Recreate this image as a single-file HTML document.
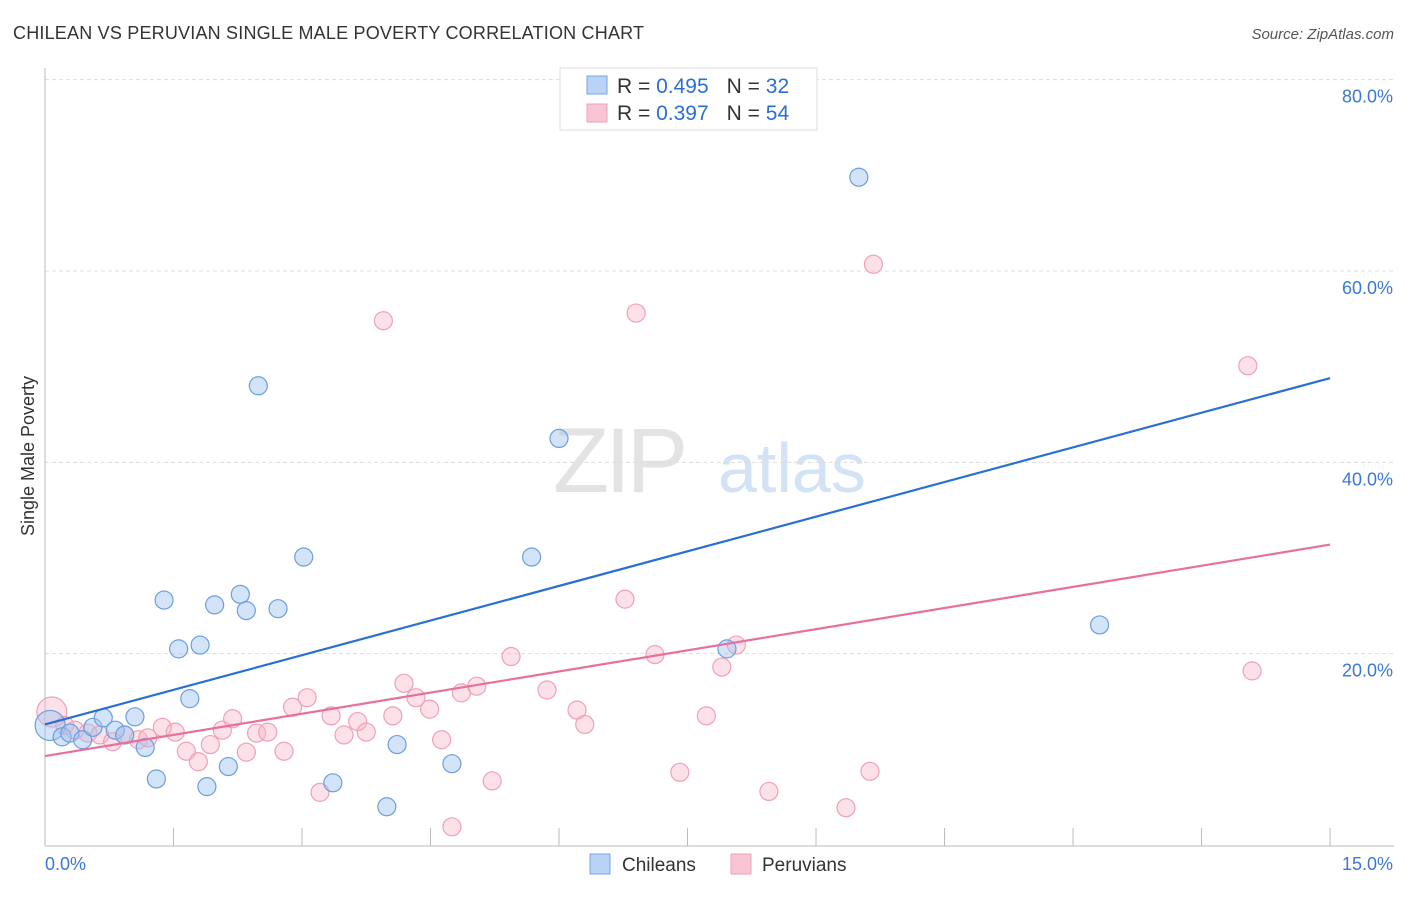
<!DOCTYPE html>
<html><head><meta charset="utf-8"><style>
body{margin:0;background:#fff;font-family:"Liberation Sans",sans-serif;}
svg text{font-family:"Liberation Sans",sans-serif;}
</style></head><body>
<svg width="1406" height="892" xmlns="http://www.w3.org/2000/svg">
<text x="13" y="39" font-size="18" fill="#333" letter-spacing="0.2">CHILEAN VS PERUVIAN SINGLE MALE POVERTY CORRELATION CHART</text>
<text x="1394" y="39" font-size="15" fill="#555" font-style="italic" text-anchor="end">Source: ZipAtlas.com</text>
<g>
<text x="553" y="492" font-size="92" fill="#e3e3e3" font-family="Liberation Serif" letter-spacing="-4">ZIP</text>
<text x="718" y="492" font-size="70" fill="#d3e3f6">atlas</text>
</g>
<g id="grid"></g>
<g id="axes"></g>
<g id="marks"></g>
<text x="34" y="456" font-size="18" fill="#333" transform="rotate(-90 34 456)" text-anchor="middle">Single Male Poverty</text>
<g>
<rect x="560" y="68" width="257" height="62" fill="#fff" stroke="#ddd"/>
<rect x="587" y="76" width="20" height="18" fill="#b8d3f5" stroke="#7aa7e0"/>
<rect x="587" y="104" width="20" height="18" fill="#f9c5d5" stroke="#f0a0b8"/>
<text x="617" y="93" font-size="21" fill="#333">R = <tspan fill="#2a6fd6">0.495</tspan><tspan dx="18">N = </tspan><tspan fill="#2a6fd6">32</tspan></text>
<text x="617" y="120" font-size="21" fill="#333">R = <tspan fill="#2a6fd6">0.397</tspan><tspan dx="18">N = </tspan><tspan fill="#2a6fd6">54</tspan></text>
</g>
<g>
<rect x="590" y="854" width="20" height="20" fill="#b8d3f5" stroke="#7aa7e0"/>
<text x="622" y="871" font-size="19" fill="#333">Chileans</text>
<rect x="731" y="854" width="20" height="20" fill="#f9c5d5" stroke="#f0a0b8"/>
<text x="762" y="871" font-size="19" fill="#333">Peruvians</text>
</g>
</svg>
<script>
const blueX=[0.06,0.20,0.29,0.44,0.56,0.68,0.82,0.93,1.05,1.17,1.30,1.39,1.56,1.69,1.81,1.89,1.98,2.14,2.28,2.35,2.49,2.72,3.02,3.36,3.99,4.11,4.75,5.68,6.00,7.96,9.50,12.31];
const blueY=[12.5,11.3,11.7,11.0,12.3,13.3,12.0,11.5,13.4,10.2,6.9,25.6,20.5,15.3,20.9,6.1,25.1,8.2,26.2,24.5,48.0,24.7,30.1,6.5,4.0,10.5,8.5,30.1,42.5,20.5,69.8,23.0];
const pinkX=[0.08,0.23,0.35,0.50,0.64,0.79,0.93,1.09,1.20,1.37,1.52,1.65,1.79,1.93,2.07,2.19,2.35,2.47,2.60,2.79,2.89,3.06,3.21,3.34,3.49,3.65,3.75,3.95,4.06,4.19,4.33,4.49,4.63,4.75,4.86,5.04,5.22,5.44,5.86,6.21,6.30,6.77,6.90,7.12,7.41,7.72,7.90,8.07,8.45,9.35,9.63,9.67,14.04,14.09];
const pinkY=[13.9,12.5,12.0,11.7,11.5,10.8,11.5,11.0,11.2,12.3,11.8,9.8,8.7,10.5,12.0,13.2,9.7,11.7,11.8,9.8,14.4,15.4,5.5,13.5,11.5,12.9,11.8,54.8,13.5,16.9,15.4,14.2,11.0,1.9,15.9,16.6,6.7,19.7,16.2,14.1,12.6,25.7,55.6,19.9,7.6,13.5,18.6,20.9,5.6,3.9,7.7,60.7,50.1,18.2];
const blueTrend=[12.6,48.8];
const pinkTrend=[9.3,31.4];
const yTicks=[20,40,60,80];
const yTickLabels=["20.0%","40.0%","60.0%","80.0%"];
const xTicks=[1.5,3,4.5,6,7.5,9,10.5,12,13.5,15];
const NS='http://www.w3.org/2000/svg';
const sx=v=>45+v*85.67, sy=v=>845-v*9.567;
function mk(p,tag,a){const e=document.createElementNS(NS,tag);for(const k in a)e.setAttribute(k,a[k]);p.appendChild(e);return e;}
const grid=document.getElementById('grid'),axes=document.getElementById('axes'),marks=document.getElementById('marks');
yTicks.forEach((t,i)=>{
 const l=mk(grid,'line',{x1:45,x2:1394,y1:sy(t),y2:sy(t),stroke:'#ddd','stroke-dasharray':'4 3'});
 
 
 const tx=mk(grid,'text',{x:1393,y:sy(t)+23,'font-size':18,fill:'#3a78d4','text-anchor':'end'});
 tx.textContent=yTickLabels[i];
 
 
});
let a=mk(axes,'line',{x1:45,x2:45,y1:68,y2:846,stroke:'#bbb'});


a=mk(axes,'line',{x1:45,x2:1394,y1:846,y2:846,stroke:'#bbb'});


xTicks.forEach(t=>{const l=mk(axes,'line',{x1:sx(t),x2:sx(t),y1:828,y2:846,stroke:'#bbb'});
 
 });
let t0=mk(axes,'text',{x:45,y:870,'font-size':18,fill:'#3a78d4'});t0.textContent='0.0%';


let t1=mk(axes,'text',{x:1393,y:870,'font-size':18,fill:'#3a78d4','text-anchor':'end'});t1.textContent='15.0%';


function pts(X,Y,fill,stroke,name){X.forEach((x,i)=>{const c=mk(marks,'circle',{cx:sx(x),cy:sy(Y[i]),r:i==0?15:9,fill:fill,stroke:stroke,'stroke-width':1.2});
 
 });}
pts(pinkX,pinkY,'rgba(248,180,200,0.4)','#f0a0b8','peruvian-point');
pts(blueX,blueY,'rgba(160,196,240,0.45)','#6a9fe0','chilean-point');
let bl=mk(marks,'line',{x1:sx(0),y1:sy(blueTrend[0]),x2:sx(15),y2:sy(blueTrend[1]),stroke:'#2a6fd6','stroke-width':2.2});


let pl=mk(marks,'line',{x1:sx(0),y1:sy(pinkTrend[0]),x2:sx(15),y2:sy(pinkTrend[1]),stroke:'#e8709a','stroke-width':2.2});


</script>
</body></html>
